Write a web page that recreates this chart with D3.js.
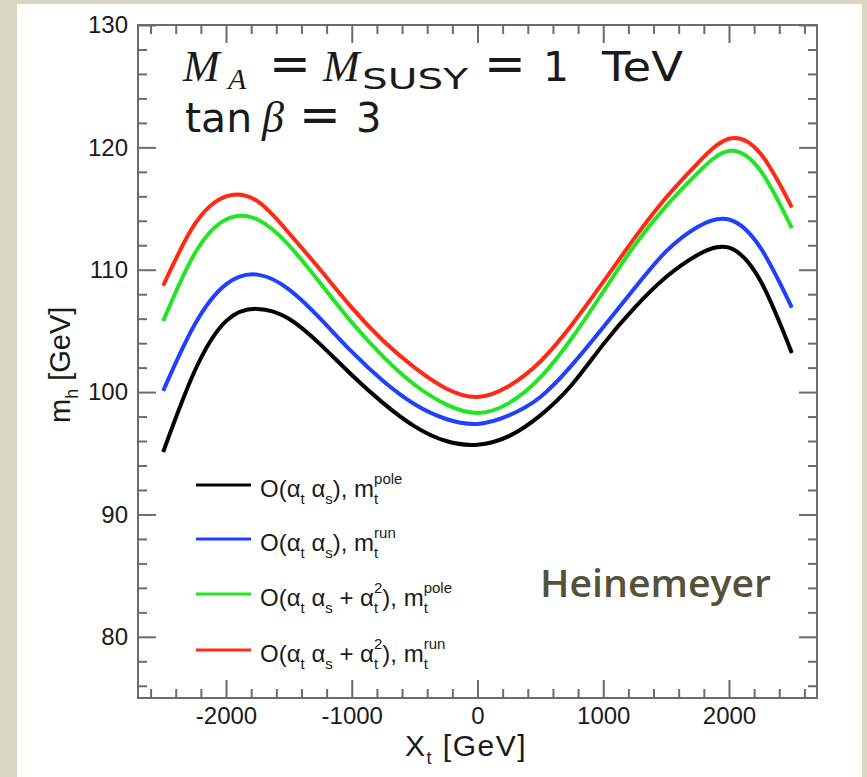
<!DOCTYPE html>
<html>
<head>
<meta charset="utf-8">
<script src="https://cdn.jsdelivr.net/npm/d3@7"></script>
<style>
html, body { margin: 0; padding: 0; background: #d9d7c2; }
svg { display: block; }
text { white-space: pre; }
</style>
</head>
<body>
<svg width="867" height="777"></svg>
<script>
var xt = [-2500, -2250, -2000, -1750, -1500, -1250, -1000, -750, -500, -250, 0,
          250, 500, 750, 1000, 1250, 1500, 1750, 2000, 2250, 2500];

// m_h (GeV) for each approximation
var mhAsPole  = [95.1, 101.7, 105.8, 106.8, 106.0, 103.9, 101.4, 99.1, 97.2, 96.0, 95.7,
                 96.4, 98.1, 100.6, 103.9, 106.9, 109.4, 111.2, 111.8, 109.1, 103.2];
var mhAsRun   = [100.1, 105.5, 108.8, 109.6, 108.4, 106.0, 103.3, 100.9, 99.0, 97.8, 97.4,
                 98.1, 99.6, 102.2, 105.3, 108.5, 111.5, 113.5, 114.1, 111.8, 106.9];
var mhAs2Pole = [105.8, 111.3, 114.1, 114.1, 112.0, 108.9, 105.7, 102.9, 100.6, 99.0, 98.3,
                 99.1, 101.2, 104.4, 108.2, 112.0, 115.2, 117.9, 119.7, 118.1, 113.4];
var mhAs2Run  = [108.7, 113.7, 116.0, 115.6, 113.0, 110.0, 106.9, 104.2, 102.0, 100.3, 99.6,
                 100.5, 102.5, 105.5, 109.0, 112.6, 115.9, 118.7, 120.7, 119.5, 115.1];

var seriesLabels = [
    "O(α_{t} α_{s}), m_{t}^{pole}",
    "O(α_{t} α_{s}), m_{t}^{run}",
    "O(α_{t} α_{s} + α_{t}^{2}), m_{t}^{pole}",
    "O(α_{t} α_{s} + α_{t}^{2}), m_{t}^{run}"
];
var seriesColors = ["#000000", "#2040ff", "#22e622", "#ff2a14"];

var xMajor = [-2000, -1000, 0, 1000, 2000];
var yMajor = [80, 90, 100, 110, 120, 130];

var svg = d3.select("svg");
var W = 867, H = 777;
var mLeft = 138, mRight = 817, mTop = 25, mBottom = 698;

// white page
svg.append("rect").attr("x", 17).attr("y", 4).attr("width", 845).attr("height", H - 4)
        .attr("fill", "#ffffff");

var x = d3.scaleLinear().domain([-2700, 2700]).range([mLeft, mRight]);
var y = d3.scaleLinear().domain([75, 130]).range([mBottom, mTop]);

var axisColor = "#6b6b6b";
var xMinor = d3.range(-2600, 2700, 200).filter(function (v) { return v % 1000 !== 0; });
var yMinor = d3.range(76, 130, 2).filter(function (v) { return v % 10 !== 0; });
var plain = function (d) { return String(d); };

function styleAxis(g) {
    g.selectAll("path, line").attr("stroke", axisColor).attr("stroke-width", 2);
    g.select(".domain").remove();
    g.selectAll("text").attr("fill", "#1a1a1a")
            .attr("font-family", "'Liberation Sans', Arial, sans-serif")
            .attr("font-size", 24);
}

// bottom
svg.append("g").attr("transform", "translate(0," + mBottom + ")")
        .call(d3.axisBottom(x).tickValues(xMajor).tickSizeInner(-18).tickSizeOuter(0)
                .tickPadding(9).tickFormat(plain))
        .call(styleAxis);
svg.append("g").attr("transform", "translate(0," + mBottom + ")")
        .call(d3.axisBottom(x).tickValues(xMinor).tickSizeInner(-9).tickSizeOuter(0).tickFormat(""))
        .call(styleAxis);
// top
svg.append("g").attr("transform", "translate(0," + mTop + ")")
        .call(d3.axisTop(x).tickValues(xMajor).tickSizeInner(-18).tickSizeOuter(0).tickFormat(""))
        .call(styleAxis);
svg.append("g").attr("transform", "translate(0," + mTop + ")")
        .call(d3.axisTop(x).tickValues(xMinor).tickSizeInner(-9).tickSizeOuter(0).tickFormat(""))
        .call(styleAxis);
// left
svg.append("g").attr("transform", "translate(" + mLeft + ",0)")
        .call(d3.axisLeft(y).tickValues(yMajor).tickSizeInner(-18).tickSizeOuter(0)
                .tickPadding(10).tickFormat(plain))
        .call(styleAxis);
svg.append("g").attr("transform", "translate(" + mLeft + ",0)")
        .call(d3.axisLeft(y).tickValues(yMinor).tickSizeInner(-9).tickSizeOuter(0).tickFormat(""))
        .call(styleAxis);
// right
svg.append("g").attr("transform", "translate(" + mRight + ",0)")
        .call(d3.axisRight(y).tickValues(yMajor).tickSizeInner(-18).tickSizeOuter(0).tickFormat(""))
        .call(styleAxis);
svg.append("g").attr("transform", "translate(" + mRight + ",0)")
        .call(d3.axisRight(y).tickValues(yMinor).tickSizeInner(-9).tickSizeOuter(0).tickFormat(""))
        .call(styleAxis);

svg.append("rect").attr("x", mLeft).attr("y", mTop)
        .attr("width", mRight - mLeft).attr("height", mBottom - mTop)
        .attr("fill", "none").attr("stroke", axisColor).attr("stroke-width", 2);

// curves
var line = d3.line()
        .x(function (d) { return x(d[0]); })
        .y(function (d) { return y(d[1]); })
        .curve(d3.curveNatural);

[mhAsPole, mhAsRun, mhAs2Pole, mhAs2Run].forEach(function (vals, i) {
    svg.append("path")
            .datum(xt.map(function (v, j) { return [v, vals[j]]; }))
            .attr("d", line)
            .attr("fill", "none")
            .attr("stroke", seriesColors[i])
            .attr("stroke-width", 4);
});

// text with _{sub} and ^{sup}, sub and sup stacked when they follow each other
function richText(g, str, fs, sfs, subDy, supDy) {
    var parts = str.match(/_\{[^}]*\}|\^\{[^}]*\}|[^_^]+/g);
    var shift = 0, lastSub = null;
    parts.forEach(function (p) {
        var kind = p[0] === "_" ? "sub" : (p[0] === "^" ? "sup" : "n");
        var t = kind === "n" ? p : p.slice(2, -1);
        var target = kind === "sub" ? subDy : (kind === "sup" ? supDy : 0);
        var ts = g.append("tspan").text(t)
                .attr("dy", target - shift)
                .attr("font-size", kind === "n" ? fs : sfs);
        if (kind === "sup" && lastSub) {
            ts.attr("dx", -lastSub.node().getComputedTextLength());
        }
        lastSub = kind === "sub" ? ts : null;
        shift = target;
    });
}

// legend
var legendY = [485, 539, 594, 650];
seriesLabels.forEach(function (lab, i) {
    svg.append("line")
            .attr("x1", 196).attr("x2", 251)
            .attr("y1", legendY[i]).attr("y2", legendY[i])
            .attr("stroke", seriesColors[i]).attr("stroke-width", 3);
    var t = svg.append("text")
            .attr("x", 260).attr("y", legendY[i] + 12)
            .attr("fill", "#1a1a1a")
            .attr("font-family", "'Liberation Sans', Arial, sans-serif");
    richText(t, lab, 24, 15, 7, -13);
});

// header
var serif = "'Liberation Serif', 'Times New Roman', serif";
var sans = "'DejaVu Sans', sans-serif";
var ink = "#1a1a1a";
function piece(str, px, py, fs, family, italic, len) {
    var t = svg.append("text").attr("x", px).attr("y", py).attr("fill", ink)
            .attr("font-family", family).attr("font-size", fs)
            .attr("font-style", italic ? "italic" : "normal")
            .text(str);
    if (len) t.attr("textLength", len).attr("lengthAdjust", "spacingAndGlyphs");
}
piece("M", 183, 81, 44, serif, true);
piece("A", 228, 89, 30, serif, true);
piece("=", 269, 81, 50, sans, false);
piece("M", 323, 81, 44, serif, true);
piece("SUSY", 362, 89, 29, sans, false, 106);
piece("=", 484, 81, 50, sans, false);
piece("1", 543, 81, 41, sans, false);
piece("TeV", 602, 81, 40, sans, false, 81);

piece("tan", 185, 132, 41, sans, false);
piece("β", 262, 132, 44, serif, true);
piece("=", 299, 132, 50, sans, false);
piece("3", 356, 132, 40, sans, false);

// axis titles
var xTitle = svg.append("text").attr("x", 405).attr("y", 756).attr("fill", ink)
        .attr("letter-spacing", 1.5)
        .attr("font-family", "'Liberation Sans', Arial, sans-serif");
richText(xTitle, "X_{t} [GeV]", 30, 18, 8, 0);

var yTitle = svg.append("text")
        .attr("transform", "translate(70,423) rotate(-90)")
        .attr("fill", ink)
        .attr("font-family", "'Liberation Sans', Arial, sans-serif");
richText(yTitle, "m_{h} [GeV]", 29, 18, 8, 0);

svg.append("text").attr("x", 540).attr("y", 597)
        .attr("fill", "#55523a")
        .attr("font-family", "'Comic Sans MS', 'Open Sans', sans-serif")
        .attr("font-size", 38)
        .attr("font-weight", 600)
        .attr("textLength", 231).attr("lengthAdjust", "spacingAndGlyphs")
        .text("Heinemeyer");
</script>
</body>
</html>
